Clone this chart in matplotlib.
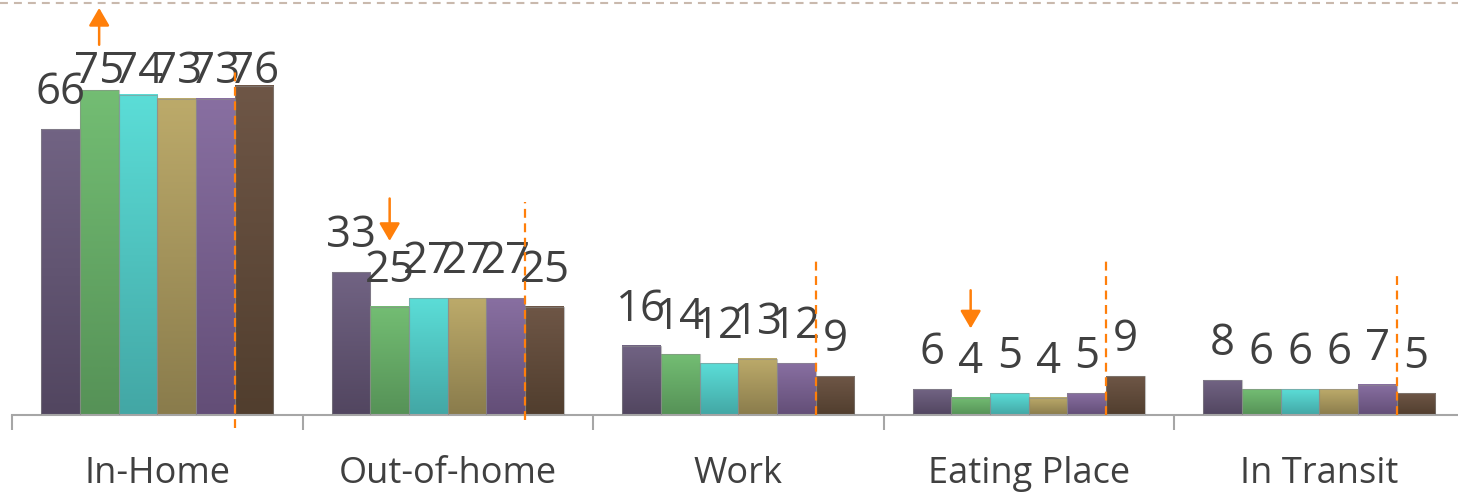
import numpy as np
import matplotlib
matplotlib.use("Agg")
import matplotlib.pyplot as plt
from matplotlib.colors import LinearSegmentedColormap
from matplotlib.lines import Line2D

# data
categories = ["In-Home", "Out-of-home", "Work", "Eating Place", "In Transit"]
in_home = [66, 75, 74, 73, 73, 76]
out_of_home = [33, 25, 27, 27, 27, 25]
work = [16, 14, 12, 13, 12, 9]
eating_place = [6, 4, 5, 4, 5, 9]
in_transit = [8, 6, 6, 6, 7, 5]
values = [in_home, out_of_home, work, eating_place, in_transit]

# annotations: arrows (category, bar index, tail, tip) and dashed marker tops
arrows = [(0, 1, 85.5, 94.0), (1, 1, 50.0, 40.2), (3, 1, 28.8, 20.0)]
marker_tops = [80.0, 49.2, 36.3, 35.8, 32.1]
marker_bottoms = [-3.0, -1.2, 0.0, 0.0, 0.0]

# gradient colours, (top, bottom) for each series
series_colors = [
    ("#716383", "#524660"),
    ("#73BD73", "#569257"),
    ("#5BDDD7", "#43A7A5"),
    ("#BCAA6A", "#8A7C4C"),
    ("#886FA1", "#634E77"),
    ("#6E5646", "#513E2E"),
]
ORANGE = "#FF7F0A"
TEXT = "#404040"
PX_PER_UNIT = 4.33

plt.rcParams["font.family"] = ["Open Sans", "DejaVu Sans"]

fig = plt.figure(figsize=(14.58, 4.95), dpi=100)
ax = fig.add_axes([12 / 1458, 1 - 415 / 495, 1452.5 / 1458, 412 / 495])

n = len(series_colors)
w = 0.8 / n
x = np.arange(len(categories))
ymax = 412 / PX_PER_UNIT
label_gap = 25 / PX_PER_UNIT
label_ceil = (415 - 83) / PX_PER_UNIT

for j in range(n):
    top, bot = series_colors[j]
    cmap = LinearSegmentedColormap.from_list("g%d" % j, [bot, top])
    heights = [v[j] for v in values]
    bars = ax.bar(x + (j - (n - 1) / 2) * w, heights, width=w,
                  facecolor="none", edgecolor=(0.55, 0.55, 0.55, 0.55),
                  linewidth=0.8, zorder=3)
    for b, h in zip(bars, heights):
        x0 = b.get_x()
        grad = np.linspace(0, 1, 64).reshape(-1, 1)
        ax.imshow(grad, extent=(x0, x0 + b.get_width(), 0, h), origin="lower",
                  aspect="auto", cmap=cmap, zorder=2, interpolation="bicubic")
        ax.text(x0 + b.get_width() / 2, min(h + label_gap, label_ceil), str(h),
                ha="center", va="baseline", fontsize=31.5, color=TEXT, zorder=5)

# dashed orange markers between 5th and 6th bar
for i in range(len(categories)):
    xm = x[i] + (n / 2 - 1) * w
    ax.plot([xm, xm], [marker_bottoms[i], marker_tops[i]], color=ORANGE,
            lw=1.6, dashes=(4, 2.5), zorder=6, clip_on=False)

for ci, bj, tail, tip in arrows:
    xa = x[ci] + (bj - (n - 1) / 2) * w
    ax.annotate("", xy=(xa, tip), xytext=(xa, tail), annotation_clip=False,
                arrowprops=dict(arrowstyle="-|>,head_length=0.6,head_width=0.35",
                                color=ORANGE, lw=1.8, mutation_scale=18,
                                shrinkA=0, shrinkB=0))

ax.set_xlim(-0.5, len(categories) - 0.5)
ax.set_ylim(0, ymax)
for s in ["top", "right", "left"]:
    ax.spines[s].set_visible(False)
ax.spines["bottom"].set_color("#A6A6A6")
ax.spines["bottom"].set_linewidth(1.5)
ax.set_yticks([])
ax.set_xticks(np.arange(len(categories) + 1) - 0.5)
ax.set_xticklabels([])
ax.tick_params(axis="x", length=10.8, width=1.5, color="#A6A6A6", direction="out")
for i, c in enumerate(categories):
    ax.text(x[i], -59 / 412, c, transform=ax.get_xaxis_transform(),
            ha="center", va="center", fontsize=26, color=TEXT)

fig.add_artist(Line2D([0, 1], [1 - 3 / 495] * 2, transform=fig.transFigure,
                      color="#C9B9AD", lw=1.5, dashes=(3.8, 2.9)))

fig.savefig("out.png", dpi=100)
